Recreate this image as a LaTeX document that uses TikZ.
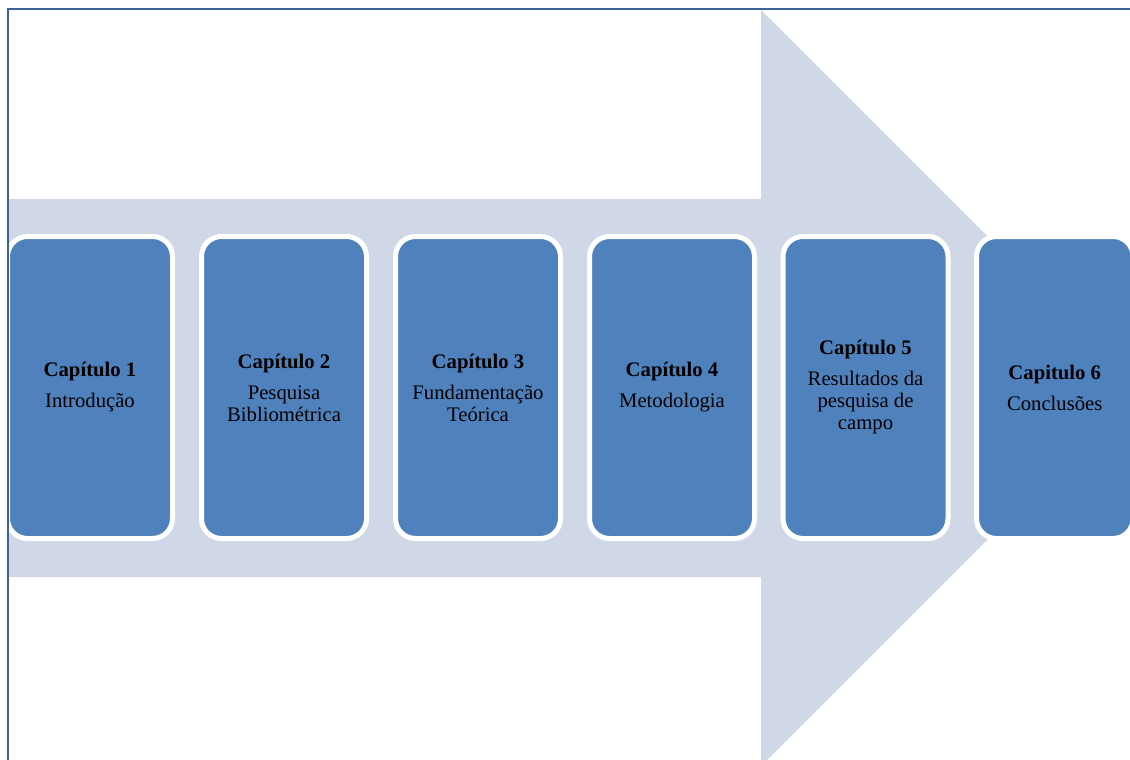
\documentclass[tikz,border=0pt]{standalone}
\usepackage{fontspec}
\setmainfont{Liberation Serif}
\usepackage{xcolor}
\definecolor{boxblue}{HTML}{4F81BD}
\definecolor{arrowgray}{HTML}{D0D8E8}
\definecolor{framecol}{HTML}{3C6496}

\begin{document}
\begin{tikzpicture}[x=1pt,y=-1pt,
    chapbox/.style={draw=white, line width=5pt, fill=boxblue, rounded corners=20pt,
        minimum width=165pt, minimum height=302pt, inner sep=0pt, align=center,
        font=\fontsize{20.7}{22}\selectfont}]
    \useasboundingbox (0,0) rectangle (1130,760);
    \begin{scope}
        \clip (9,10.5) rectangle (1130,760);
        \fill[arrowgray] (8,199) -- (761,199) -- (761,10) -- (1139,388) -- (761,766) -- (761,577) -- (8,577) -- cycle;
        \node[chapbox] (cap1) at (90,387.5) {\textbf{Capítulo 1}\\[9pt]Introdução};
        \node[chapbox] (cap2) at (284,387.5) {\textbf{Capítulo 2}\\[9pt]Pesquisa\\Bibliométrica};
        \node[chapbox] (cap3) at (478,387.5) {\textbf{Capítulo 3}\\[9pt]Fundamentação\\Teórica};
        \node[chapbox] (cap4) at (672,387.5) {\textbf{Capítulo 4}\\[9pt]Metodologia};
        \node[chapbox] (cap5) at (865.5,387.5) {\textbf{Capítulo 5}\\[9pt]Resultados da\\pesquisa de\\campo};
        \node[chapbox, minimum width=156.5pt] (cap6) at (1054.75,387.5) {\textbf{Capitulo 6}\\[9pt]Conclusões};
    \end{scope}
    \draw[framecol, line width=2pt] (7.5,770) -- (7.5,9.5) -- (1140,9.5);
\end{tikzpicture}
\end{document}
